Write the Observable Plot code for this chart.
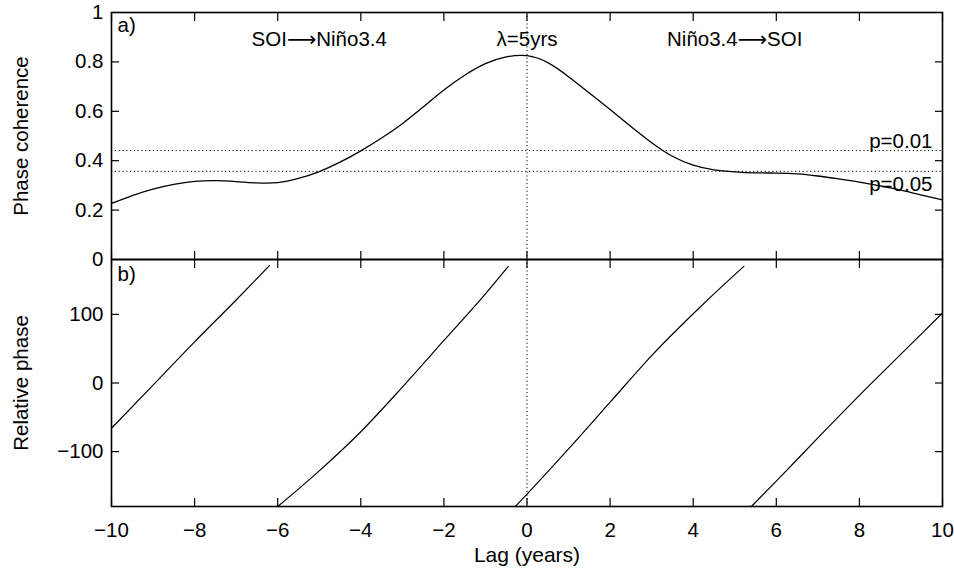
<!DOCTYPE html>
<html><head><meta charset="utf-8">
<script src="https://cdn.jsdelivr.net/npm/d3@7"></script>
<script src="https://cdn.jsdelivr.net/npm/@observablehq/plot@0.6"></script>
<style>
body{margin:0;background:#fff;}
#chart{position:relative;width:954px;height:568px;background:#fff;}
#top,#bottom{position:absolute;left:0;}
#top{top:0;}
#bottom{top:259px;}
svg{overflow:visible;}
</style></head><body>
<div id="chart"><div id="top"></div><div id="bottom"></div></div>
<script>
// ---- data ----
const coherenceLag = [-10,-9.5,-9,-8.5,-8,-7.5,-7,-6.5,-6,-5.5,-5,-4.5,-4,-3.5,-3,-2.5,-2,-1.5,-1,-0.5,0,0.5,1,1.5,2,2.5,3,3.5,4,4.5,5,5.5,6,6.5,7,7.5,8,8.5,9,9.5,10];
const coherence    = [0.227,0.259,0.285,0.304,0.316,0.319,0.315,0.310,0.311,0.328,0.356,0.394,0.440,0.492,0.550,0.617,0.686,0.746,0.793,0.820,0.825,0.797,0.740,0.674,0.607,0.538,0.473,0.418,0.382,0.363,0.355,0.351,0.350,0.347,0.338,0.326,0.313,0.298,0.281,0.261,0.241];

const phaseSegment = [1,1,1,1,1, 2,2,2,2,2,2,2, 3,3,3,3,3,3,3,3, 4,4,4,4,4,4];
const phaseLag     = [-10,-9,-8,-7,-6.2, -6.0,-5,-4,-3,-2,-1,-0.45, -0.28,0,1,2,3,4,5,5.22, 5.4,6,7,8,9,10];
const phase        = [-66,-3,60,121,171, -180,-128,-71,-6,62,130,170, -180,-162,-96,-28,40,101,158,170, -180,-143,-80,-18,42,102];

const significanceLabels = ["p=0.01","p=0.05"];
const significanceLevels = [0.441, 0.357];

const directionLabels = ["SOI\u27F6Niño3.4","\u03bb=5yrs","Niño3.4\u27F6SOI"];
const directionLags = [-5, 0, 5];

const xTicks = [-10,-8,-6,-4,-2,0,2,4,6,8,10];
const coherenceTicks = [0,0.2,0.4,0.6,0.8,1];
const coherenceInnerTicks = [0.2,0.4,0.6,0.8];
const phaseTicks = [-100,0,100];
const panelLabels = ["a)","b)"];

// ---- build ----
const cohData = coherenceLag.map((l,i)=>({lag:l, c:coherence[i]}));
const phaseData = phaseLag.map((l,i)=>({lag:l, phase:phase[i], seg:phaseSegment[i]}));
const sigData = significanceLevels.map((v,i)=>({level:v, label:significanceLabels[i]}));
const dirData = directionLabels.map((t,i)=>({lag:directionLags[i], label:t}));

const FONT = '"Liberation Sans", Arial, Helvetica, "DejaVu Sans", sans-serif';
const FS = 20.5;
const common = {
  width: 954, marginLeft: 111, marginRight: 12,
  style: {fontFamily: FONT, fontSize: FS + "px", color: "black", background: "transparent", overflow: "visible"}
};
const dotted = {stroke: "black", strokeWidth: 1, strokeDasharray: "1.2,2.6"};
const tickAxes = (yt) => [
  Plot.axisX(xTicks, {anchor: "top", tickSize: 8, dy: 8, text: null, label: null, strokeWidth: 1.2}),
  Plot.axisX(xTicks, {anchor: "bottom", tickSize: 8, dy: -8, text: null, label: null, strokeWidth: 1.2}),
  Plot.axisY(yt, {anchor: "left", tickSize: 8, dx: 8, text: null, label: null, strokeWidth: 1.2}),
  Plot.axisY(yt, {anchor: "right", tickSize: 8, dx: -8, text: null, label: null, strokeWidth: 1.2})
];

const topPlot = Plot.plot({
  ...common,
  height: 259, marginTop: 12, marginBottom: 0,
  x: {domain: [-10, 10], label: null},
  y: {domain: [0, 1], label: null},
  marks: [
    Plot.ruleY(sigData, {y: "level", ...dotted}),
    Plot.ruleX([0], dotted),
    Plot.line(cohData, {x: "lag", y: "c", curve: "natural", stroke: "black", strokeWidth: 1.3}),
    Plot.text(dirData, {x: "lag", y: 0.863, text: "label", lineAnchor: "bottom", fill: "black", fontSize: FS}),
    Plot.text(sigData.slice(0,1), {x: 10, y: "level", text: "label", textAnchor: "end", lineAnchor: "bottom", dx: -10, dy: -2.5, fill: "black", fontSize: FS}),
    Plot.text(sigData.slice(1,2), {x: 10, y: "level", text: "label", textAnchor: "end", lineAnchor: "bottom", dx: -10, dy: 19.5, fill: "black", fontSize: FS}),
    Plot.text([panelLabels[0]], {frameAnchor: "top-left", textAnchor: "start", dx: 6, dy: 4.5, fill: "black", fontSize: FS}),
    Plot.frame({stroke: "black", strokeWidth: 1.6}),
    ...tickAxes(coherenceInnerTicks),
    Plot.axisY(coherenceTicks, {anchor: "left", tickSize: 0, tickPadding: 8, tickFormat: d => String(d), label: "Phase coherence", labelAnchor: "center", labelOffset: 98, labelArrow: "none"})
  ]
});

const bottomPlot = Plot.plot({
  ...common,
  height: 309, marginTop: 0, marginBottom: 62,
  x: {domain: [-10, 10], label: null},
  y: {domain: [-180, 180], label: null},
  marks: [
    Plot.ruleX([0], dotted),
    Plot.line(phaseData, {x: "lag", y: "phase", z: "seg", curve: "monotone-x", stroke: "black", strokeWidth: 1.2}),
    Plot.text([panelLabels[1]], {frameAnchor: "top-left", textAnchor: "start", dx: 6, dy: 7, fill: "black", fontSize: FS}),
    Plot.frame({stroke: "black", strokeWidth: 1.6}),
    ...tickAxes(phaseTicks),
    Plot.axisX(xTicks, {anchor: "bottom", tickSize: 0, tickPadding: 16, label: null}),
    Plot.axisX([], {anchor: "bottom", tickSize: 0, label: "Lag (years)", labelAnchor: "center", labelOffset: 55, labelArrow: "none", fontSize: 21}),
    Plot.axisY(phaseTicks, {anchor: "left", tickSize: 0, tickPadding: 8, label: "Relative phase", labelAnchor: "center", labelOffset: 98, labelArrow: "none"})
  ]
});

document.getElementById("top").appendChild(topPlot);
document.getElementById("bottom").appendChild(bottomPlot);
</script>
</body></html>
